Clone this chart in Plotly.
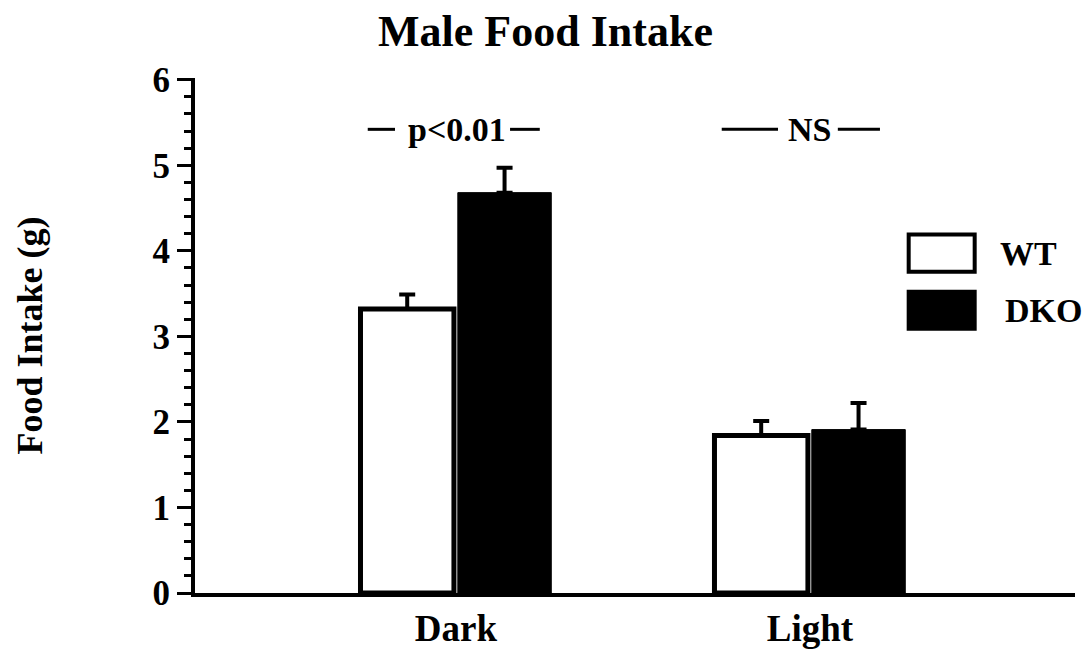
import plotly.graph_objects as go

# Food intake by phase, male mice
periods = ["Dark", "Light"]
wt_mean = [3.32, 1.84]
wt_sem = [0.17, 0.17]
dko_mean = [4.68, 1.91]
dko_sem = [0.29, 0.31]

sig_labels = ["p<0.01", "NS"]
sig_level = 5.42

y_ticks = [0, 1, 2, 3, 4, 5, 6]

SERIF = "Liberation Serif"

fig = go.Figure()
fig.add_trace(go.Bar(
    x=periods, y=wt_mean, name="WT",
    marker=dict(color="white", line=dict(color="black", width=5)),
    error_y=dict(type="data", array=wt_sem, arrayminus=[0, 0], symmetric=False,
                 thickness=4, width=8, color="black"),
))
fig.add_trace(go.Bar(
    x=periods, y=dko_mean, name="DKO",
    marker=dict(color="black", line=dict(color="black", width=1)),
    error_y=dict(type="data", array=dko_sem, arrayminus=[0, 0], symmetric=False,
                 thickness=4, width=8, color="black"),
))

# significance markers: text flanked by short rules
text_x = [0.003, 1.0]
rule_spans = [((-0.249, -0.172), (0.153, 0.237)), ((0.751, 0.910), (1.079, 1.198))]
for lab, tx, (left, right) in zip(sig_labels, text_x, rule_spans):
    fig.add_annotation(x=tx, y=sig_level, text=f"<b>{lab}</b>",
                       showarrow=False, xref="x", yref="y",
                       font=dict(family=SERIF, size=34, color="black"))
    for x0, x1 in (left, right):
        fig.add_shape(type="line", xref="x", yref="y", x0=x0, x1=x1,
                      y0=sig_level, y1=sig_level, line=dict(color="black", width=3))

# legend drawn as boxes with labels
legend_items = [("WT", "white", 0.660, 0.913), ("DKO", "black", 0.549, 0.918)]
for name, fill, yc, tx in legend_items:
    fig.add_shape(type="rect", xref="paper", yref="paper",
                  x0=0.811, x1=0.886, y0=yc - 0.036, y1=yc + 0.036,
                  fillcolor=fill, line=dict(color="black", width=4))
    fig.add_annotation(xref="paper", yref="paper", x=tx, y=yc, text=f"<b>{name}</b>",
                       showarrow=False, xanchor="left", yanchor="middle",
                       font=dict(family=SERIF, size=34, color="black"))

fig.update_layout(
    width=1091, height=661,
    margin=dict(l=195, r=16, t=78, b=62),
    paper_bgcolor="white", plot_bgcolor="white",
    barmode="group", bargap=0.45, bargroupgap=0.04,
    showlegend=False,
    title=dict(text="<b>Male Food Intake</b>", x=0.5, xanchor="center", y=0.953, yanchor="middle",
               font=dict(family=SERIF, size=44, color="black")),
    font=dict(family=SERIF, color="black"),
)
fig.update_xaxes(
    range=[-0.737, 1.749], showline=True, linecolor="black", linewidth=4,
    ticks="", showgrid=False, zeroline=False,
    tickfont=dict(family=SERIF, size=37, color="black", weight="bold"),
)
fig.update_yaxes(
    range=[0, 6.02], tickvals=y_ticks, showline=True, linecolor="black", linewidth=4,
    ticks="outside", ticklen=14, tickwidth=3, tickcolor="black",
    minor=dict(dtick=0.2, ticks="outside", ticklen=7, tickwidth=3, tickcolor="black"),
    showgrid=False, zeroline=False,
    tickfont=dict(family=SERIF, size=35, color="black", weight="bold"),
    title=dict(text="<b>Food Intake (g)</b>", standoff=100,
               font=dict(family=SERIF, size=36, color="black")),
)

fig.write_html("out.html")
